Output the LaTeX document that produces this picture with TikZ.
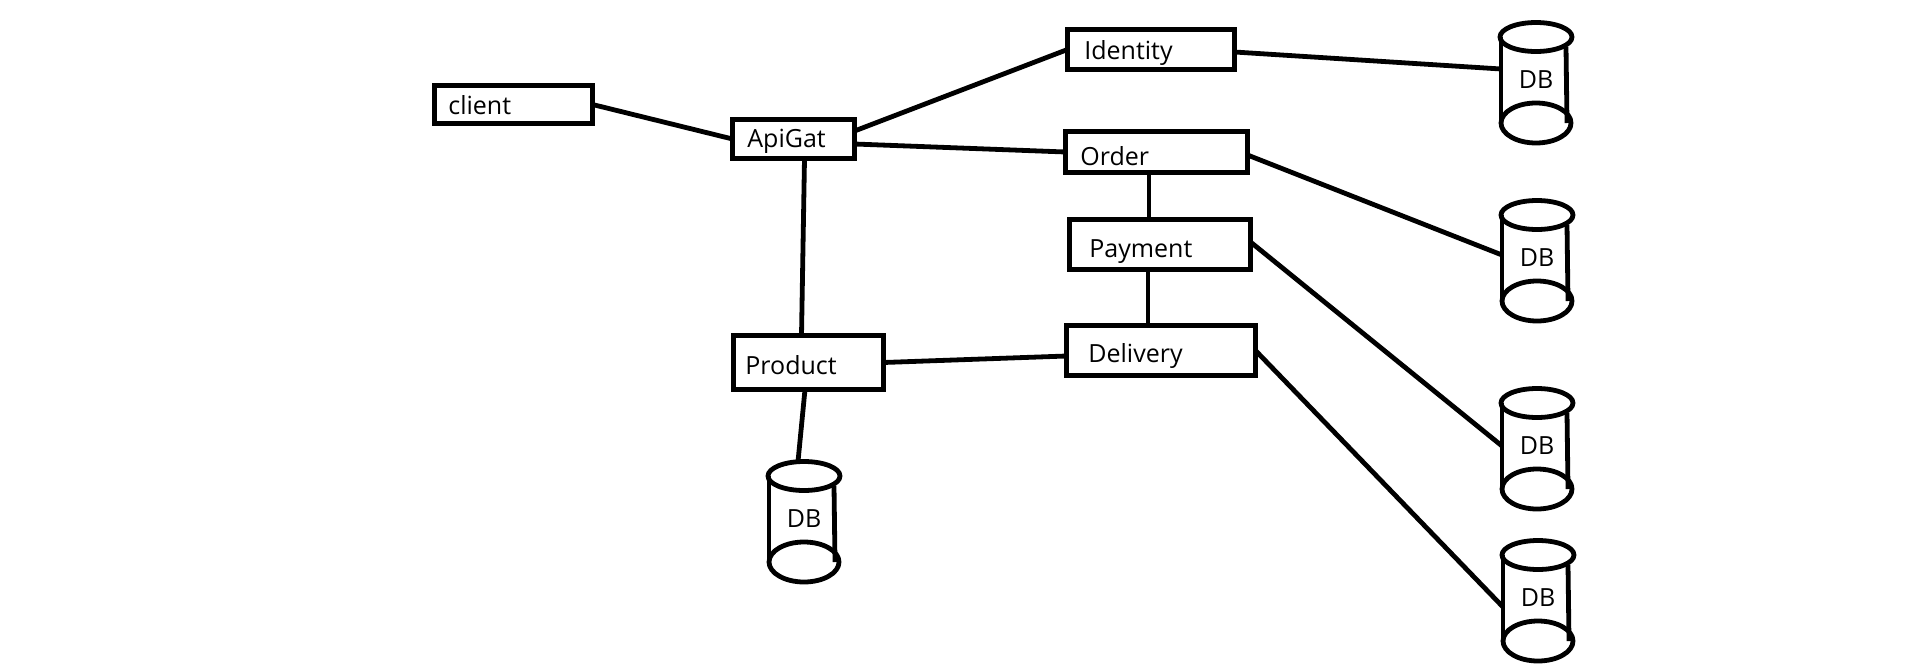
\documentclass[tikz,border=0pt]{standalone}
\usepackage{fontspec}
\setmainfont{Open Sans}
\newcommand\dbshape[1]{%
  \draw (#1.north) ellipse [x radius=36pt, y radius=14.5pt];
  \draw (#1.south) ellipse [x radius=35pt, y radius=20pt];
  \draw (#1.north west) -- (#1.south west);
  \draw ([xshift=30pt,yshift=-10pt]#1.north) -- ([xshift=31pt]#1.south);
}
\begin{document}
\begin{tikzpicture}[x=1pt,y=-1pt, line width=4.8pt,
  box/.style={draw, rectangle, inner sep=0pt, outer sep=0pt},
  lbl/.style={anchor=base west, inner sep=0pt, font=\fontsize{25}{30}\selectfont},
  dbn/.style={rectangle, inner sep=0pt, outer sep=0pt, minimum width=70pt, minimum height=86pt, font=\fontsize{25}{30}\selectfont},
  link/.style={draw, line width=4.8pt}]
\useasboundingbox (0,0) rectangle (1914,667);

% service boxes
\node[box, minimum width=158pt, minimum height=38pt] (client) at (513.5,104.5) {};
\node[box, minimum width=122pt, minimum height=39pt] (apigat) at (793.5,139) {};
\node[box, minimum width=167pt, minimum height=40pt] (identity) at (1151,49.5) {};
\node[box, minimum width=182pt, minimum height=41pt] (order) at (1156.5,152) {};
\node[box, minimum width=181pt, minimum height=50pt] (payment) at (1160,244.5) {};
\node[box, minimum width=189pt, minimum height=50pt] (delivery) at (1161,350.5) {};
\node[box, minimum width=150pt, minimum height=54pt] (product) at (808.5,362.5) {};

% labels
\node[lbl] (tclient) at (446,114) {client};
\node[lbl] (tapigat) at (745,147) {ApiGat};
\node[lbl] (tidentity) at (1082,59) {Identity};
\node[lbl] (torder) at (1078,165) {Order};
\node[lbl] (tpayment) at (1087,257) {Payment};
\node[lbl] (tdelivery) at (1086,362) {Delivery};
\node[lbl] (tproduct) at (743,374) {Product};

% databases
\node[dbn] (db1) at (1536,80) {DB};
\node[dbn] (db2) at (1537,258) {DB};
\node[dbn] (db3) at (1537,446) {DB};
\node[dbn] (db4) at (1538,598) {DB};
\node[dbn] (db5) at (804,519) {DB};
\dbshape{db1}
\dbshape{db2}
\dbshape{db3}
\dbshape{db4}
\dbshape{db5}

% connectors
\draw[link] (client.east) -- (apigat.west);
\draw[link] ([yshift=8pt]apigat.east) -- (identity.west);
\draw[link] ([yshift=-5pt]apigat.east) -- (order.west);
\draw[link] ([xshift=11pt]apigat.south) -- ([xshift=-7pt]product.north);
\draw[link] ([xshift=-7.5pt]order.south) -- ([xshift=-11pt]payment.north);
\draw[link] ([xshift=-12pt]payment.south) -- ([xshift=-13pt]delivery.north);
\draw[link] (product.east) -- ([yshift=-5.5pt]delivery.west);
\draw[link] ([yshift=-2.5pt]identity.east) -- ([yshift=11pt]db1.west);
\draw[link] ([yshift=-3pt]order.east) -- ([yshift=3pt]db2.west);
\draw[link] ([yshift=2.5pt]payment.east) -- (db3.west);
\draw[link] (delivery.east) -- ([yshift=-9pt]db4.west);
\draw[link] ([xshift=-3.5pt]product.south) -- ([xshift=-6pt,yshift=14.5pt]db5.north);
\end{tikzpicture}
\end{document}
